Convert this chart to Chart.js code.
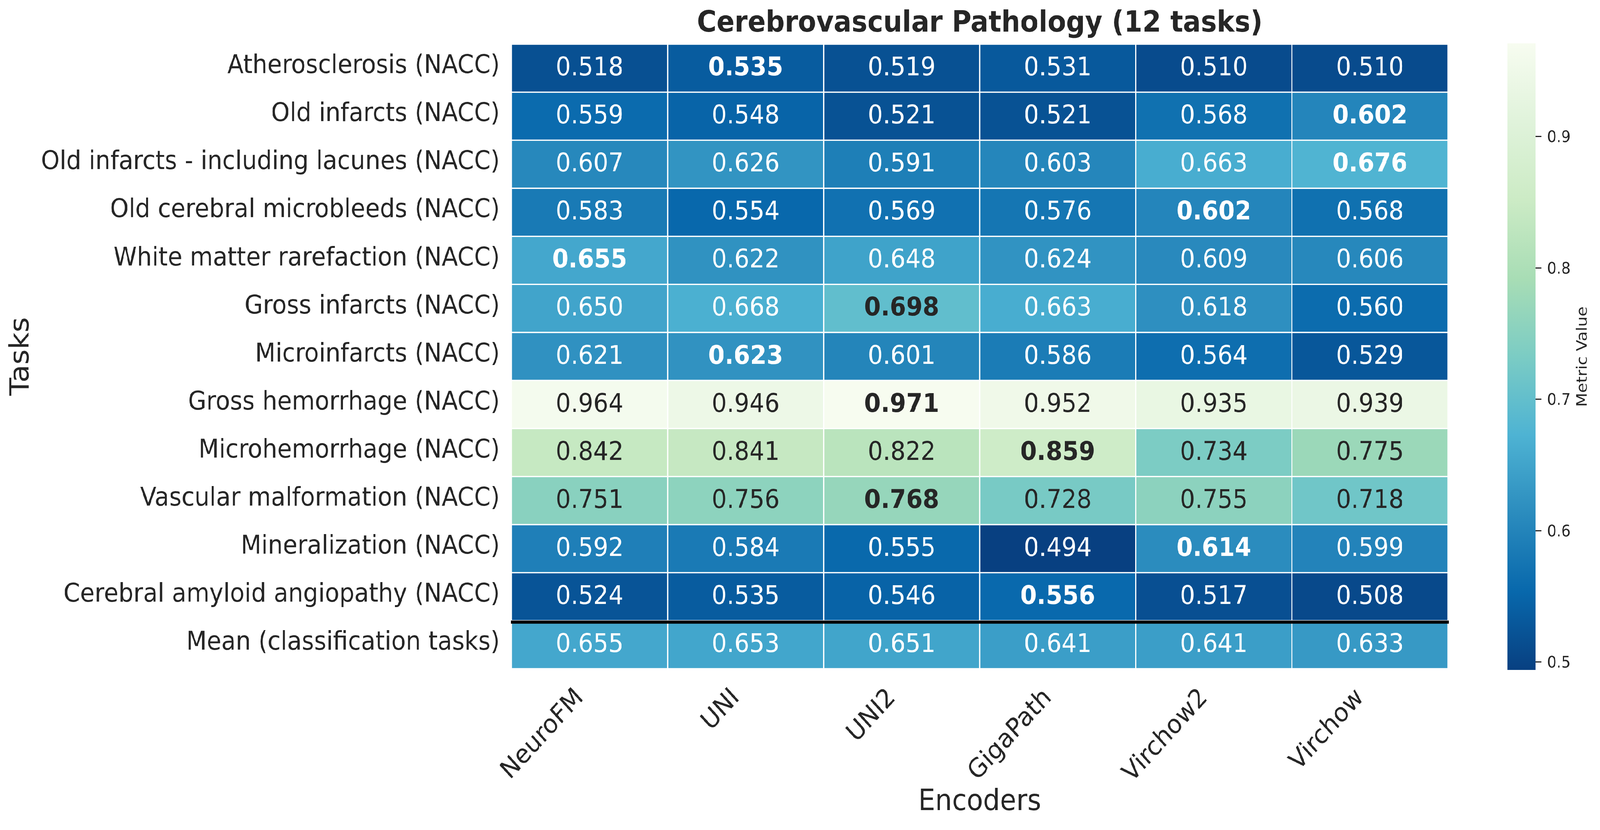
<!DOCTYPE html>
<html>
<head>
<meta charset="utf-8">
<script src="https://cdn.jsdelivr.net/npm/chart.js@4.4.1/dist/chart.umd.min.js"></script>
<style>
html,body{margin:0;padding:0;background:#ffffff;overflow:hidden;}
#wrap{position:absolute;left:0;top:0;width:4504px;height:2126px;background:#ffffff;transform-origin:0 0;}
#heat{position:absolute;left:0;top:0;}
#cbar{position:absolute;left:4150px;top:0;}
</style>
</head>
<body>
<div id="wrap">
<canvas id="heat" width="4150" height="2126"></canvas>
<canvas id="cbar" width="354" height="2126"></canvas>
</div>
<script>
// ---------------- data ----------------
const encoders = ['NeuroFM', 'UNI', 'UNI2', 'GigaPath', 'Virchow2', 'Virchow'];
const tasks = [
  'Atherosclerosis (NACC)',
  'Old infarcts (NACC)',
  'Old infarcts - including lacunes (NACC)',
  'Old cerebral microbleeds (NACC)',
  'White matter rarefaction (NACC)',
  'Gross infarcts (NACC)',
  'Microinfarcts (NACC)',
  'Gross hemorrhage (NACC)',
  'Microhemorrhage (NACC)',
  'Vascular malformation (NACC)',
  'Mineralization (NACC)',
  'Cerebral amyloid angiopathy (NACC)',
  'Mean (classification tasks)'
];
const atherosclerosis   = [0.518, 0.535, 0.519, 0.531, 0.510, 0.510];
const oldInfarcts       = [0.559, 0.548, 0.521, 0.521, 0.568, 0.602];
const oldInfarctsLac    = [0.607, 0.626, 0.591, 0.603, 0.663, 0.676];
const oldMicrobleeds    = [0.583, 0.554, 0.569, 0.576, 0.602, 0.568];
const whiteMatter       = [0.655, 0.622, 0.648, 0.624, 0.609, 0.606];
const grossInfarcts     = [0.650, 0.668, 0.698, 0.663, 0.618, 0.560];
const microinfarcts     = [0.621, 0.623, 0.601, 0.586, 0.564, 0.529];
const grossHemorrhage   = [0.964, 0.946, 0.971, 0.952, 0.935, 0.939];
const microhemorrhage   = [0.842, 0.841, 0.822, 0.859, 0.734, 0.775];
const vascularMalf      = [0.751, 0.756, 0.768, 0.728, 0.755, 0.718];
const mineralization    = [0.592, 0.584, 0.555, 0.494, 0.614, 0.599];
const amyloidAngiopathy = [0.524, 0.535, 0.546, 0.556, 0.517, 0.508];
const meanRow           = [0.655, 0.653, 0.651, 0.641, 0.641, 0.633];
const values = [atherosclerosis, oldInfarcts, oldInfarctsLac, oldMicrobleeds, whiteMatter,
  grossInfarcts, microinfarcts, grossHemorrhage, microhemorrhage, vascularMalf,
  mineralization, amyloidAngiopathy, meanRow];
const colorbarTicks = [0.5, 0.6, 0.7, 0.8, 0.9];

// map the 4504x2126 design onto the real viewport so the whole figure fills it
const DESIGN_W = 4504, DESIGN_H = 2126;
const sx = (window.innerWidth || DESIGN_W) / DESIGN_W;
const sy = (window.innerHeight || DESIGN_H) / DESIGN_H;
document.getElementById('wrap').style.transform = 'scale(' + sx + ',' + sy + ')';
const DPR = 1;

// ---------------- colour map (GnBu reversed) ----------------
const GNBU_R = ['#084081', '#0868ac', '#2b8cbe', '#4eb3d3', '#7bccc4', '#a8ddb5', '#ccebc5', '#e0f3db', '#f7fcf0'];
const vmin = Math.min(...values.flat());
const vmax = Math.max(...values.flat());
function hexToRgb(h) { return [parseInt(h.slice(1, 3), 16), parseInt(h.slice(3, 5), 16), parseInt(h.slice(5, 7), 16)]; }
const STOPS = GNBU_R.map(hexToRgb);
function cmapRgb(v) {
  let t = (v - vmin) / (vmax - vmin);
  t = Math.max(0, Math.min(1, t));
  const pos = t * (STOPS.length - 1);
  const i = Math.min(Math.floor(pos), STOPS.length - 2);
  const f = pos - i;
  return STOPS[i].map((c, k) => Math.round(c + f * (STOPS[i + 1][k] - c)));
}
function cmap(v) { const c = cmapRgb(v); return `rgb(${c[0]},${c[1]},${c[2]})`; }
function textColor(v) {
  const lum = cmapRgb(v).map(c => {
    const s = c / 255;
    return s <= 0.03928 ? s / 12.92 : Math.pow((s + 0.055) / 1.055, 2.4);
  });
  const l = 0.2126 * lum[0] + 0.7152 * lum[1] + 0.0722 * lum[2];
  return l > 0.408 ? '#262626' : '#ffffff';
}

const FONT = 'DejaVu Sans';
const TXT = '#262626';

// ---------------- heatmap ----------------
const cellLabels = {
  id: 'cellLabels',
  afterDatasetsDraw(chart) {
    const c = chart.ctx;
    c.save();
    c.textAlign = 'center';
    c.textBaseline = 'alphabetic';
    chart.data.datasets.forEach((ds, i) => {
      const meta = chart.getDatasetMeta(i);
      const rowMax = Math.max(...values[i]);
      meta.data.forEach((el, j) => {
        const v = values[i][j];
        const bold = i < values.length - 1 && v === rowMax;
        c.font = (bold ? 'bold ' : '') + '66.7px "' + FONT + '"';
        c.fillStyle = textColor(v);
        const cy = (el.y + el.base) / 2;
        c.fillText(v.toFixed(3), el.x, cy + 18.5);
      });
    });
    // separator line above the mean row
    const ys = chart.scales.y;
    const y = ys.getPixelForValue(values.length - 1) + 3.5;
    c.beginPath();
    c.lineWidth = 8;
    c.strokeStyle = '#000000';
    c.moveTo(chart.chartArea.left - 2, y);
    c.lineTo(chart.chartArea.right + 2, y);
    c.stroke();
    c.restore();
  }
};

const datasets = tasks.map((task, i) => ({
  label: task,
  data: encoders.map((enc, j) => ({ x: enc, y: [i, i + 1], v: values[i][j] })),
  backgroundColor: ctx => (ctx.raw ? cmap(ctx.raw.v) : '#ffffff'),
  borderColor: '#ffffff',
  borderWidth: 2,
  borderSkipped: false,
  grouped: false,
  barPercentage: 1,
  categoryPercentage: 1
}));

new Chart(document.getElementById('heat'), {
  type: 'bar',
  data: { labels: encoders, datasets },
  options: {
    responsive: false,
    devicePixelRatio: DPR,
    animation: false,
    layout: { padding: { left: 0, right: 74, top: 0, bottom: 0 } },
    plugins: {
      legend: { display: false },
      tooltip: { enabled: false },
      title: {
        display: true,
        text: 'Cerebrovascular Pathology (12 tasks)',
        fullSize: false,
        color: TXT,
        font: { family: FONT, size: 75, weight: 'bold' },
        padding: { top: 17, bottom: 6 }
      }
    },
    scales: {
      x: {
        type: 'category',
        offset: true,
        grid: { display: false, drawTicks: false },
        border: { display: false },
        afterFit(s) { s.height = 413; },
        ticks: {
          autoSkip: false,
          maxRotation: 45,
          minRotation: 45,
          padding: 36,
          labelOffset: -27,
          color: TXT,
          font: { family: FONT, size: 66.7 }
        },
        title: {
          display: true,
          text: 'Encoders',
          color: TXT,
          font: { family: FONT, size: 75 },
          padding: { top: 0, bottom: 25 }
        }
      },
      y: {
        type: 'linear',
        min: 0,
        max: tasks.length,
        reverse: true,
        grid: { display: false, drawTicks: false },
        border: { display: false },
        afterFit(s) { s.width = 1440; },
        afterBuildTicks(s) { s.ticks = tasks.map((t, i) => ({ value: i + 0.5 })); },
        ticks: {
          autoSkip: false,
          padding: 33,
          labelOffset: -4.6,
          color: TXT,
          font: { family: FONT, size: 66.7 },
          callback: (value, index) => tasks[index]
        },
        title: {
          display: true,
          text: 'Tasks',
          color: TXT,
          font: { family: FONT, size: 75 },
          padding: { top: 16, bottom: 0 }
        }
      }
    }
  },
  plugins: [cellLabels]
});

// ---------------- colour bar ----------------
const cbLabel = {
  id: 'cbLabel',
  afterDraw(chart) {
    const c = chart.ctx;
    const ca = chart.chartArea;
    c.save();
    c.translate(317, (ca.top + ca.bottom) / 2);
    c.rotate(-Math.PI / 2);
    c.textAlign = 'center';
    c.textBaseline = 'alphabetic';
    c.font = '41.7px "' + FONT + '"';
    c.fillStyle = TXT;
    c.fillText('Metric Value', 0, 0);
    c.restore();
  }
};

function colorbarFill(context) {
  const ch = context.chart;
  const area = ch.chartArea;
  if (!area) return GNBU_R[0];
  const ys = ch.scales.y;
  let y0 = ys ? ys.getPixelForValue(vmin) : NaN;
  let y1 = ys ? ys.getPixelForValue(vmax) : NaN;
  if (!isFinite(y0) || !isFinite(y1)) { y0 = area.bottom; y1 = area.top; }
  const g = ch.ctx.createLinearGradient(0, y0, 0, y1);
  GNBU_R.forEach((col, k) => g.addColorStop(k / (GNBU_R.length - 1), col));
  return g;
}

new Chart(document.getElementById('cbar'), {
  type: 'bar',
  data: {
    labels: [''],
    datasets: [{
      data: [[vmin, vmax]],
      backgroundColor: colorbarFill,
      borderWidth: 0,
      barPercentage: 1,
      categoryPercentage: 1
    }]
  },
  options: {
    responsive: false,
    devicePixelRatio: DPR,
    animation: false,
    layout: { padding: { left: 93, top: 111, bottom: 410, right: 0 } },
    plugins: { legend: { display: false }, tooltip: { enabled: false } },
    scales: {
      x: { display: false },
      y: {
        position: 'right',
        min: vmin,
        max: vmax,
        afterFit(s) { s.width = 181; },
        afterBuildTicks(s) { s.ticks = colorbarTicks.map(v => ({ value: v })); },
        grid: { drawOnChartArea: false, drawTicks: true, tickLength: 16, color: TXT, lineWidth: 3 },
        border: { display: false },
        ticks: {
          padding: 16,
          labelOffset: 3.5,
          color: TXT,
          font: { family: FONT, size: 41.7 },
          callback: v => v.toFixed(1)
        }
      }
    }
  },
  plugins: [cbLabel]
});
</script>
</body>
</html>
